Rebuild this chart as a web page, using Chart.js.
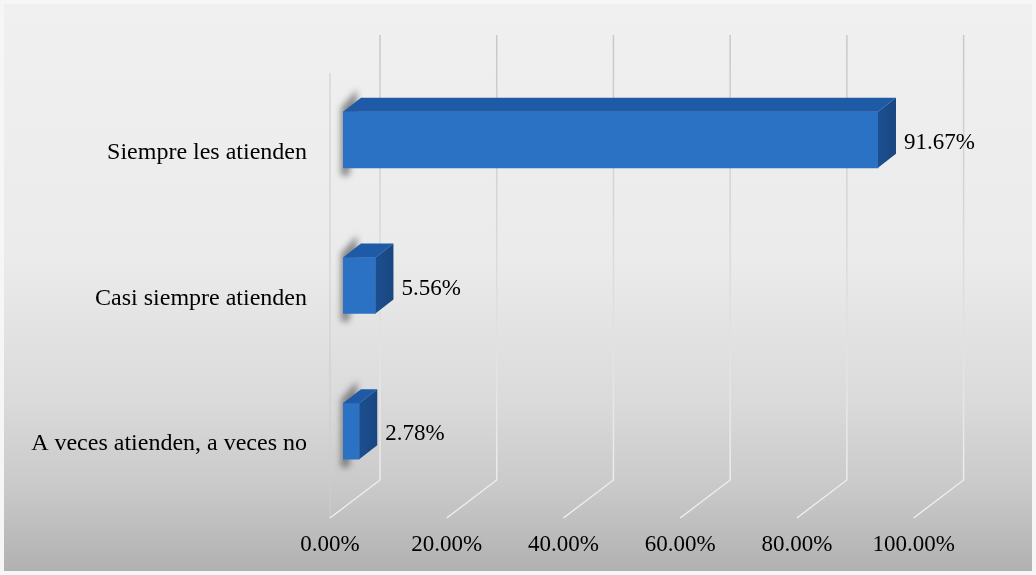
<!DOCTYPE html>
<html>
<head>
<meta charset="utf-8">
<script src="https://cdn.jsdelivr.net/npm/chart.js@4.4.1/dist/chart.umd.min.js"></script>
<style>
  html, body { margin: 0; padding: 0; background: #f4f4f4; }
  canvas { display: block; }
</style>
</head>
<body>
<canvas id="chart" width="1036" height="575"></canvas>
<script>
const categories = ['Siempre les atienden', 'Casi siempre atienden', 'A veces atienden, a veces no'];
const percentages = [91.67, 5.56, 2.78];
const tickValues = [0, 20, 40, 60, 80, 100];

const SERIF = '"Liberation Serif", "Times New Roman", serif';
const DEPTH_X = 18, DEPTH_Y = 14;       // bar extrusion
const WALL_BACK = 37, WALL_FRONT = -13; // back/front offsets of the floor grid
const WALL_TOP = 35, FLOOR_BACK = 480, FLOOR_FRONT = 518;

// page background with the grey fade towards the floor
const backdrop = {
  id: 'backdrop',
  beforeDraw(chart) {
    const { ctx, width, height } = chart;
    ctx.save();
    ctx.fillStyle = '#f6f6f6';
    ctx.fillRect(0, 0, width, height);
    const g = ctx.createLinearGradient(0, 0, 0, height);
    g.addColorStop(0, '#f0f0f0');
    g.addColorStop(0.45, '#ebebeb');
    g.addColorStop(0.7, '#dadada');
    g.addColorStop(0.85, '#c9c9c9');
    g.addColorStop(1, '#b0b0b0');
    ctx.fillStyle = g;
    ctx.fillRect(4, 4, width - 8, height - 8);
    ctx.restore();
  }
};

// back wall gridlines plus the floor diagonals
const walls = {
  id: 'walls',
  beforeDatasetsDraw(chart) {
    const { ctx, scales: { x } } = chart;
    ctx.save();
    ctx.lineWidth = 1.5;
    const x0 = x.getPixelForValue(0);
    // left wall front edge
    ctx.strokeStyle = 'rgba(205,205,205,0.7)';
    ctx.beginPath();
    ctx.moveTo(x0 + WALL_FRONT, WALL_TOP + (FLOOR_FRONT - FLOOR_BACK));
    ctx.lineTo(x0 + WALL_FRONT, FLOOR_FRONT);
    ctx.stroke();
    const vg = ctx.createLinearGradient(0, WALL_TOP, 0, FLOOR_FRONT);
    vg.addColorStop(0, '#c8c8c8');
    vg.addColorStop(0.5, '#dcdcdc');
    vg.addColorStop(1, '#efefef');
    ctx.strokeStyle = vg;
    tickValues.forEach(v => {
      const px = x.getPixelForValue(v);
      ctx.beginPath();
      ctx.moveTo(px + WALL_BACK, WALL_TOP);
      ctx.lineTo(px + WALL_BACK, FLOOR_BACK);
      ctx.lineTo(px + WALL_FRONT, FLOOR_FRONT);
      ctx.stroke();
    });
    // soft shadows cast by the bars on the left wall
    const meta = chart.getDatasetMeta(0);
    ctx.filter = 'blur(3px)';
    ctx.fillStyle = 'rgba(70,70,70,0.6)';
    meta.data.forEach(bar => {
      const top = bar.y - bar.height / 2;
      const bottom = bar.y + bar.height / 2;
      ctx.beginPath();
      ctx.moveTo(bar.base - 2, top - 4);
      ctx.lineTo(bar.base + 14, top - 22);
      ctx.lineTo(bar.base + 14, top - 6);
      ctx.lineTo(bar.base + 6, bottom + 8);
      ctx.lineTo(bar.base - 2, bottom + 8);
      ctx.closePath();
      ctx.fill();
    });
    ctx.filter = 'none';
    ctx.restore();
  }
};

// extruded top and side faces of each bar, then the value labels
const bars3d = {
  id: 'bars3d',
  afterDatasetsDraw(chart) {
    const { ctx } = chart;
    const meta = chart.getDatasetMeta(0);
    ctx.save();
    meta.data.forEach((bar, i) => {
      const top = bar.y - bar.height / 2;
      const bottom = bar.y + bar.height / 2;
      const l = bar.base, r = bar.x;
      // top face
      ctx.fillStyle = '#1f5aa6';
      ctx.beginPath();
      ctx.moveTo(l, top);
      ctx.lineTo(l + DEPTH_X, top - DEPTH_Y);
      ctx.lineTo(r + DEPTH_X, top - DEPTH_Y);
      ctx.lineTo(r, top);
      ctx.closePath();
      ctx.fill();
      // side face
      const sg = ctx.createLinearGradient(r, 0, r + DEPTH_X, 0);
      sg.addColorStop(0, '#1c4f91');
      sg.addColorStop(1, '#1a4680');
      ctx.fillStyle = sg;
      ctx.beginPath();
      ctx.moveTo(r, top);
      ctx.lineTo(r + DEPTH_X, top - DEPTH_Y);
      ctx.lineTo(r + DEPTH_X, bottom - DEPTH_Y);
      ctx.lineTo(r, bottom);
      ctx.closePath();
      ctx.fill();

      ctx.fillStyle = '#000';
      ctx.font = '23px ' + SERIF;
      ctx.textAlign = 'left';
      ctx.textBaseline = 'middle';
      ctx.fillText(percentages[i].toFixed(2) + '%', r + 26, bar.y + 3);
    });
    ctx.restore();
  }
};

const ctx = document.getElementById('chart').getContext('2d');
const frontFill = (context) => {
  const el = context.element;
  const area = context.chart.chartArea;
  if (!el || !area || !Number.isFinite(el.y) || !Number.isFinite(el.height)) return '#2b72c4';
  const top = el.y - el.height / 2;
  const g = context.chart.ctx.createLinearGradient(0, top, 0, top + el.height);
  g.addColorStop(0, '#4b93dd');
  g.addColorStop(0.12, '#3380d2');
  g.addColorStop(0.6, '#2c71c2');
  g.addColorStop(1, '#2260aa');
  return g;
};

new Chart(ctx, {
  type: 'bar',
  data: {
    labels: categories,
    datasets: [{
      data: percentages,
      backgroundColor: frontFill,
      borderWidth: 0,
      barThickness: 56
    }]
  },
  options: {
    indexAxis: 'y',
    responsive: false,
    animation: false,
    layout: { padding: { top: 67, right: 109.4, bottom: 0, left: 0 } },
    plugins: {
      legend: { display: false },
      tooltip: { enabled: false }
    },
    scales: {
      x: {
        min: 0,
        max: 100,
        afterFit(scale) { scale.height = 71; },
        afterBuildTicks(scale) { scale.ticks = tickValues.map(v => ({ value: v })); },
        grid: { display: false, drawTicks: false },
        border: { display: false },
        ticks: {
          padding: 27,
          labelOffset: WALL_FRONT,
          color: '#000',
          font: { family: SERIF, size: 23 },
          callback: v => v.toFixed(2) + '%'
        }
      },
      y: {
        afterFit(scale) { scale.width = 343; },
        grid: { display: false, drawTicks: false },
        border: { display: false },
        ticks: {
          padding: 36,
          labelOffset: 13,
          color: '#000',
          font: { family: SERIF, size: 24 }
        }
      }
    }
  },
  plugins: [backdrop, walls, bars3d]
});
</script>
</body>
</html>
